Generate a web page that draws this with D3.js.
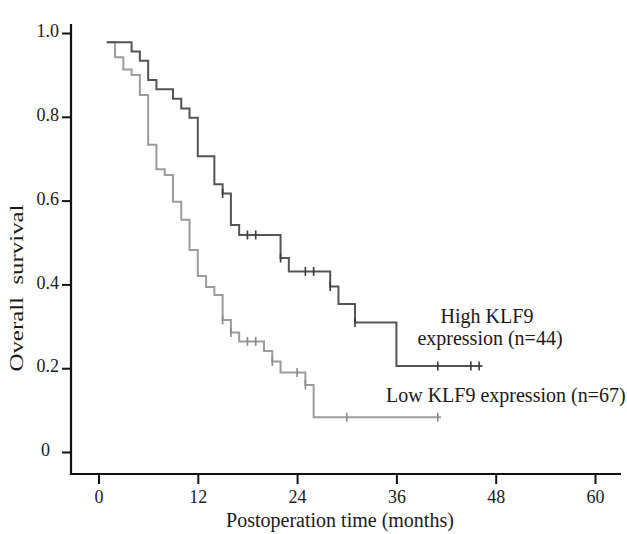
<!DOCTYPE html>
<html>
<head>
<meta charset="utf-8">
<script src="https://cdn.jsdelivr.net/npm/d3@7"></script>
<style>
  body { margin: 0; background: #fff; }
  text { font-family: 'Liberation Serif', 'Times New Roman', serif; fill: #1a1a1a; }
</style>
</head>
<body>
<svg id="km" width="627" height="534"></svg>
<script>
// ---- data (months, survival probability) ----
const highTimes = [1, 4, 5, 6, 7, 9, 10, 11, 12, 14, 15, 16, 17, 22, 23, 28, 29, 31, 36]
const highSurv = [0.978, 0.956, 0.934, 0.888, 0.866, 0.843, 0.82, 0.798, 0.706, 0.639, 0.617, 0.542, 0.518, 0.463, 0.431, 0.395, 0.353, 0.309, 0.205]
const highCensor = [15, 18, 19, 22, 25, 26, 28, 31, 41, 45, 46]
const highEnd = 46.4

const lowTimes = [1, 2, 3, 4, 5, 6, 7, 8, 9, 10, 11, 12, 13, 14, 15, 16, 17, 20, 21, 22, 25, 26]
const lowSurv = [0.978, 0.942, 0.913, 0.9, 0.852, 0.733, 0.675, 0.661, 0.597, 0.554, 0.482, 0.42, 0.394, 0.375, 0.315, 0.285, 0.264, 0.241, 0.216, 0.19, 0.16, 0.083]
const lowCensor = [15, 16, 18, 19, 21, 24, 25, 30, 41]
const lowEnd = 41.4

const xTicks = [0, 12, 24, 36, 48, 60]
const yTicks = [0, 0.2, 0.4, 0.6, 0.8, 1.0]

const svg = d3.select('#km')

/// scales ///
const xScale = d3.scaleLinear().domain([0, 60]).range([98.5, 595])
const yScale = d3.scaleLinear().domain([0, 1]).range([452, 33])

const axisX = 71
const axisY = 474

// step function value at time t
function survAt(times, surv, t) {
  let v = surv[0]
  times.forEach((tt, i) => { if (tt <= t) v = surv[i] })
  return v
}

function curvePoints(times, surv, end) {
  const pts = times.map((t, i) => [t, surv[i]])
  pts.push([end, surv[surv.length - 1]])
  return pts
}

const stepLine = d3.line()
  .x(d => xScale(d[0]))
  .y(d => yScale(d[1]))
  .curve(d3.curveStepAfter)

const groups = [
  { times: lowTimes, surv: lowSurv, censor: lowCensor, end: lowEnd, color: '#9c9c9c', tick: '#8a8a8a' },
  { times: highTimes, surv: highSurv, censor: highCensor, end: highEnd, color: '#545454', tick: '#3a3a3a' }
]

groups.forEach(g => {
  svg.append('path')
    .datum(curvePoints(g.times, g.surv, g.end))
    .attr('d', stepLine)
    .attr('fill', 'none')
    .attr('stroke', g.color)
    .attr('stroke-width', 2)

  svg.append('g')
    .selectAll('line')
    .data(g.censor)
    .join('line')
    .attr('x1', d => xScale(d))
    .attr('x2', d => xScale(d))
    .attr('y1', d => yScale(survAt(g.times, g.surv, d)) - 4.5)
    .attr('y2', d => yScale(survAt(g.times, g.surv, d)) + 4.5)
    .attr('stroke', g.tick)
    .attr('stroke-width', 1.6)
})

/// axes ///
svg.append('line')
  .attr('x1', axisX).attr('x2', axisX)
  .attr('y1', 24).attr('y2', axisY + 1)
  .attr('stroke', '#111').attr('stroke-width', 2.2)

svg.append('line')
  .attr('x1', axisX - 1).attr('x2', 621)
  .attr('y1', axisY).attr('y2', axisY)
  .attr('stroke', '#111').attr('stroke-width', 2.2)

const yAxis = svg.append('g')
  .attr('transform', 'translate(' + axisX + ',0)')
  .call(d3.axisLeft(yScale)
    .tickValues(yTicks)
    .tickSize(9)
    .tickPadding(3)
    .tickFormat(d => d === 0 ? '0' : d3.format('.1f')(d)))
yAxis.select('.domain').remove()
yAxis.selectAll('.tick line').attr('stroke', '#111').attr('stroke-width', 2)
yAxis.selectAll('.tick text')
  .attr('font-size', 18)
  .attr('font-family', 'Liberation Serif')
  .attr('fill', '#1a1a1a')
  .attr('dy', '0.2em')
  .attr('dx', d => d === 0 ? -9 : 0)

const xAxis = svg.append('g')
  .attr('transform', 'translate(0,' + axisY + ')')
  .call(d3.axisBottom(xScale)
    .tickValues(xTicks)
    .tickSize(10)
    .tickPadding(6))
xAxis.select('.domain').remove()
xAxis.selectAll('.tick line').attr('stroke', '#111').attr('stroke-width', 2)
xAxis.selectAll('.tick text')
  .attr('font-size', 18)
  .attr('font-family', 'Liberation Serif')
  .attr('fill', '#1a1a1a')

/// labels ///
svg.append('text')
  .text('Postoperation time (months)')
  .attr('x', 340)
  .attr('y', 527)
  .attr('text-anchor', 'middle')
  .attr('font-size', 20)

svg.append('text')
  .text('Overall  survival')
  .attr('transform', 'translate(23,288) rotate(-90)')
  .attr('text-anchor', 'middle')
  .attr('font-size', 18)
  .attr('textLength', 167)
  .attr('lengthAdjust', 'spacingAndGlyphs')
  .style('white-space', 'pre')

svg.append('text')
  .text('High KLF9')
  .attr('x', 487)
  .attr('y', 323)
  .attr('text-anchor', 'middle')
  .attr('font-size', 20)

svg.append('text')
  .text('expression (n=44)')
  .attr('x', 490)
  .attr('y', 345)
  .attr('text-anchor', 'middle')
  .attr('font-size', 20)

svg.append('text')
  .text('Low KLF9 expression (n=67)')
  .attr('x', 386)
  .attr('y', 402)
  .attr('text-anchor', 'start')
  .attr('font-size', 20)
</script>
</body>
</html>
